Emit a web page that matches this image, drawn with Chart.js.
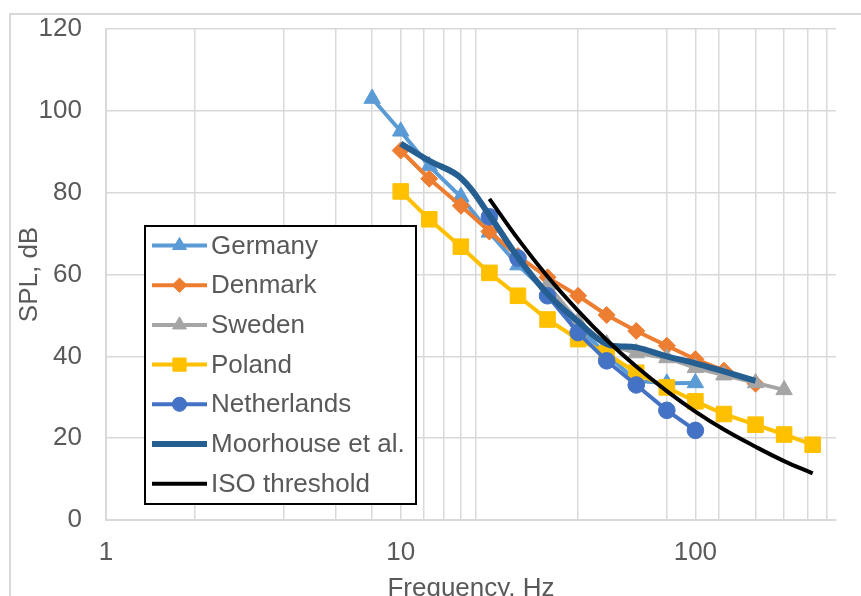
<!DOCTYPE html>
<html>
<head>
<meta charset="utf-8">
<script src="https://cdn.jsdelivr.net/npm/chart.js@4/dist/chart.umd.min.js"></script>
<style>
  html, body { margin: 0; padding: 0; background: #fff; overflow: hidden; }
  #wrap { position: relative; width: 861px; height: 596px; }
</style>
</head>
<body>
<div id="wrap"><canvas id="spl" width="861" height="596"></canvas></div>
<script>
// 1/3 octave band centre frequencies, Hz
const bands = [8, 10, 12.5, 16, 20, 25, 31.5, 40, 50, 63, 80, 100, 125, 160, 200, 250]

// SPL, dB (null = no value at that band)
const germany     = [103, 95, 86.5, 79, 70.3, 62.3, 55.5, 47, 40.5, 34, 33.4, 33.5, null, null, null, null]
const denmark     = [null, 90.3, 83.4, 76.8, 70.5, 64.5, 59.3, 54.8, 50.1, 46.2, 42.6, 39.3, 36.5, 33.3, null, null]
const sweden      = [null, null, null, null, null, null, 57.5, 48.5, 43, 40.8, 39.6, 37.2, 35.4, 33.5, 31.8, null]
const poland      = [null, 80.3, 73.5, 66.8, 60.4, 54.8, 49, 44.2, 40.7, 36, 32.4, 29, 25.9, 23.3, 20.9, 18.4]
const netherlands = [null, null, null, null, 74.1, 64, 54.8, 45.8, 38.9, 33, 26.8, 21.9, null, null, null, null]
const moorhouse   = [null, 92, 87.8, 83.6, 74.5, 64.2, 55.3, 48.5, 43, 42.2, 40, 38.3, 36.3, 34, null, null]
const isoThreshold = [null, null, null, null, 78.5, 68.7, 59.5, 51.1, 44.0, 37.5, 31.5, 26.5, 22.1, 17.9, 14.4, 11.4]

// axis ticks
const xGridValues = [1, 2, 4, 6, 8, 10, 12, 14, 16, 18, 40, 80, 100, 120, 160, 200, 240, 280]
const xLabelValues = [1, 10, 100]
const yTicks = [0, 20, 40, 60, 80, 100, 120]

const textColour = '#595959'
const gridColour = '#D9D9D9'
const fontFamily = '"Liberation Sans", Arial, sans-serif'

function toPoints(values) {
  return bands.map((f, i) => ({ x: f, y: values[i] })).filter(p => p.y !== null)
}

function series(label, values, colour, style, radius, width, tension) {
  return {
    label: label,
    data: toPoints(values),
    borderColor: colour,
    backgroundColor: colour,
    borderWidth: width,
    pointStyle: style || false,
    pointRadius: style ? radius : 0,
    pointBorderWidth: 1,
    pointBackgroundColor: colour,
    pointBorderColor: colour,
    tension: tension || 0,
    fill: false
  }
}

const datasets = [
  series('Germany', germany, '#5B9BD5', 'triangle', 9.5, 4),
  series('Denmark', denmark, '#ED7D31', 'rectRot', 8.5, 4),
  series('Sweden', sweden, '#A5A5A5', 'triangle', 9.5, 4),
  series('Poland', poland, '#FFC000', 'rect', 11, 4),
  series('Netherlands', netherlands, '#4472C4', 'circle', 8.3, 4),
  series('Moorhouse et al.', moorhouse, '#255E91', null, 0, 6, 0.4),
  series('ISO threshold', isoThreshold, '#000000', null, 0, 4, 0.4)
]
// later series on top, like the original
datasets.forEach((d, i) => { d.order = datasets.length - i })

// outer chart frame (cut by the picture edge on the right/bottom)
const framePlugin = {
  id: 'frame',
  beforeDraw(chart) {
    const ctx = chart.ctx
    ctx.save()
    ctx.strokeStyle = gridColour
    ctx.lineWidth = 2
    ctx.strokeRect(10, 14, 1000, 1000)
    ctx.restore()
  }
}

// boxed legend sitting inside the plot area
const boxLegend = {
  id: 'boxLegend',
  afterDraw(chart) {
    const ctx = chart.ctx
    const left = 145, top = 226, right = 416, bottom = 504
    ctx.save()
    ctx.fillStyle = '#fff'
    ctx.fillRect(left, top, right - left, bottom - top)
    ctx.strokeStyle = '#000'
    ctx.lineWidth = 2
    ctx.strokeRect(left, top, right - left, bottom - top)

    ctx.font = '26px ' + fontFamily
    ctx.textBaseline = 'middle'
    chart.data.datasets.forEach((d, i) => {
      const y = 245.5 + i * 39.7
      ctx.strokeStyle = d.borderColor
      ctx.lineWidth = d.borderWidth
      ctx.beginPath()
      ctx.moveTo(152, y)
      ctx.lineTo(207, y)
      ctx.stroke()
      if (d.pointStyle) {
        ctx.fillStyle = d.borderColor
        ctx.lineWidth = 1
        Chart.helpers.drawPoint(ctx, { pointStyle: d.pointStyle, radius: d.pointRadius * 0.85, rotation: 0, borderWidth: 1 }, 179.5, y)
      }
      ctx.fillStyle = textColour
      ctx.fillText(d.label, 211, y + 1)
    })
    ctx.restore()
  }
}

new Chart(document.getElementById('spl'), {
  type: 'line',
  data: { datasets: datasets },
  plugins: [framePlugin, boxLegend],
  options: {
    responsive: false,
    animation: false,
    layout: { padding: { left: 0, top: 29, right: 25, bottom: 0 } },
    plugins: { legend: { display: false }, tooltip: { enabled: false } },
    scales: {
      x: {
        type: 'logarithmic',
        min: 1,
        max: 300,
        afterBuildTicks: scale => { scale.ticks = xGridValues.map(v => ({ value: v })) },
        afterFit: scale => { scale.height = 76 },
        ticks: {
          autoSkip: false,
          maxRotation: 0,
          padding: 17,
          color: textColour,
          font: { family: fontFamily, size: 26 },
          callback: v => xLabelValues.includes(v) ? String(v) : ''
        },
        grid: { color: gridColour, lineWidth: 1.5, drawTicks: false },
        border: { color: gridColour, width: 2 },
        title: {
          display: true,
          text: 'Frequency, Hz',
          color: textColour,
          font: { family: fontFamily, size: 26, lineHeight: 1 },
          padding: { top: 0, bottom: -6 }
        }
      },
      y: {
        min: 0,
        max: 120,
        afterBuildTicks: scale => { scale.ticks = yTicks.map(v => ({ value: v })) },
        afterFit: scale => {
          scale.width = 106
          scale.paddingTop = 0
          scale.paddingBottom = 0
        },
        ticks: {
          padding: 24,
          color: textColour,
          font: { family: fontFamily, size: 26 }
        },
        grid: { color: gridColour, lineWidth: 1.5, drawTicks: false },
        border: { color: gridColour, width: 2 },
        title: {
          display: true,
          text: 'SPL, dB',
          color: textColour,
          font: { family: fontFamily, size: 26 },
          padding: { top: 14, bottom: 0 }
        }
      }
    }
  }
})
</script>
</body>
</html>
